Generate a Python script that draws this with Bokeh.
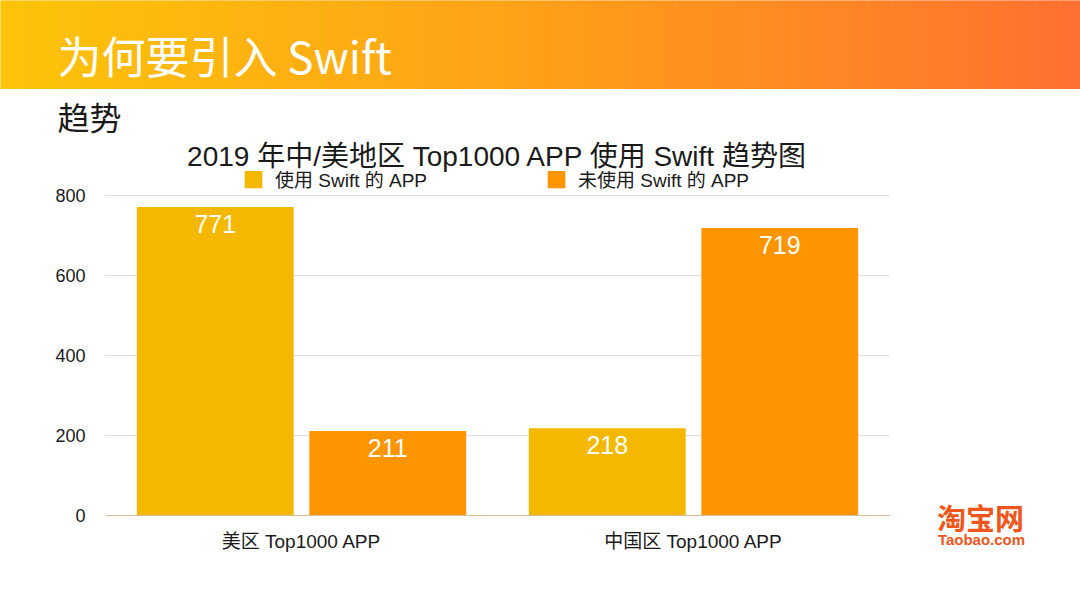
from bokeh.plotting import figure
from bokeh.layouts import column, row
from bokeh.models import (ColumnDataSource, FactorRange, Range1d, Label, Legend,
                          LegendItem, Title)
from bokeh.transform import dodge
from bokeh.core.properties import value
from bokeh.embed import file_html
from bokeh.resources import INLINE

# ---------------- data ----------------
header_title = "为何要引入 Swift"
section_title = "趋势"
chart_title = "2019 年中/美地区 Top1000 APP 使用 Swift 趋势图"
regions = ["美区 Top1000 APP", "中国区 Top1000 APP"]
series_names = ["使用 Swift 的 APP", "未使用 Swift 的 APP"]
used_swift = [771, 218]
not_used_swift = [211, 719]
y_ticks = [0, 200, 400, 600, 800]
logo_cn = "淘宝网"
logo_en = "Taobao.com"

# ---------------- styles ----------------
W = 1080
H_TOP = 89           # gradient header
H_CHART = 608 - H_TOP
W_CHART = 905
W_LOGO = W - W_CHART
FRAME_TOP, FRAME_BOTTOM = 171, 515      # page pixels
GRID_TOP = 195                          # page pixel of the 800 gridline
CJK = "Noto Sans CJK SC"
MIX = "Liberation Sans, Noto Sans CJK SC"
LAT = "Liberation Sans"
C_USED = "#F5B800"
C_UNUSED = "#FF9500"
GRAD = [(252, 196, 10), (255, 160, 24), (255, 112, 48)]
TXT = "#1a1a1a"
LOGO = "#EF561C"


def blank(fig):
    fig.grid.visible = False
    fig.outline_line_color = None
    fig.background_fill_color = None
    fig.border_fill_color = None


def grad_color(t):
    if t < 0.5:
        a, b, u = GRAD[0], GRAD[1], t / 0.5
    else:
        a, b, u = GRAD[1], GRAD[2], (t - 0.5) / 0.5
    c = tuple(int(round(x + (y - x) * u)) for x, y in zip(a, b))
    return "#%02x%02x%02x" % c


# ---------------- header (page pixel coordinates, y downwards) ----------------
h = figure(width=W, height=H_TOP, x_range=Range1d(0, W), y_range=Range1d(H_TOP, 0),
           toolbar_location=None, output_backend="svg", min_border=0,
           x_axis_location=None, y_axis_location=None)
blank(h)
N = 180
lefts = [W * i / N for i in range(N)]
rights = [W * (i + 1) / N for i in range(N)]
cols = [grad_color((i + 0.5) / N) for i in range(N)]
h.quad(left=lefts, right=rights, top=0, bottom=H_TOP, fill_color=cols, line_color=cols)
h.add_layout(Label(x=57, y=54, text=header_title, text_color="white",
                   text_font_size="44px", text_font=CJK, text_baseline="middle"))

# ---------------- chart ----------------
frame_h = FRAME_BOTTOM - FRAME_TOP
y_max = y_ticks[-1] * frame_h / (FRAME_BOTTOM - GRID_TOP)
p = figure(width=W_CHART, height=H_CHART, x_range=FactorRange(*regions),
           y_range=Range1d(0, y_max), toolbar_location=None, output_backend="svg",
           min_border_left=105, min_border_right=W_CHART - 889,
           min_border_top=FRAME_TOP - H_TOP,
           min_border_bottom=H_CHART - (FRAME_BOTTOM - H_TOP))
p.outline_line_color = None
p.background_fill_color = "white"

p.add_layout(Title(text=chart_title, align="center", text_font=MIX,
                   text_font_size="28px", text_font_style="normal",
                   text_color=TXT, standoff=0), "above")
p.add_layout(Title(text=section_title, align="left", offset=-48, text_font=CJK,
                   text_font_size="32px", text_font_style="normal",
                   text_color=TXT, standoff=0), "above")

src = ColumnDataSource(dict(region=regions, used=used_swift, unused=not_used_swift,
                            used_txt=[str(v) for v in used_swift],
                            unused_txt=[str(v) for v in not_used_swift]))

r1 = p.vbar(x=dodge("region", -0.22, range=p.x_range), top="used", width=0.4,
            source=src, fill_color=C_USED, line_color=None)
r2 = p.vbar(x=dodge("region", 0.22, range=p.x_range), top="unused", width=0.4,
            source=src, fill_color=C_UNUSED, line_color=None)

for off, col in ((-0.22, "used"), (0.22, "unused")):
    p.text(x=dodge("region", off, range=p.x_range), y=col, text=col + "_txt", source=src,
           text_color="white", text_font=value(LAT), text_font_size=value("25px"),
           text_align="center", text_baseline="middle", y_offset=17)

for rend, name, lx in ((r1, series_names[0], 242 - 105), (r2, series_names[1], 545 - 105)):
    lg = Legend(items=[LegendItem(label=name, renderers=[rend])],
                orientation="horizontal", location=(lx, FRAME_BOTTOM - 192),
                glyph_width=22, glyph_height=22, label_standoff=11,
                padding=0, margin=0, border_line_color=None,
                background_fill_alpha=0, label_text_font=MIX,
                label_text_font_size="19px", label_text_color=TXT,
                label_height=22, label_text_baseline="middle")
    p.add_layout(lg, "center")

p.yaxis.ticker = y_ticks
p.yaxis.axis_line_color = None
p.yaxis.major_tick_line_color = None
p.yaxis.minor_tick_line_color = None
p.yaxis.major_label_text_font = LAT
p.yaxis.major_label_text_font_size = "18px"
p.yaxis.major_label_text_color = TXT
p.yaxis.major_label_standoff = 14

p.xaxis.axis_line_color = "#D9BC9A"
p.xaxis.major_tick_line_color = None
p.xaxis.minor_tick_line_color = None
p.xaxis.major_label_text_font = MIX
p.xaxis.major_label_text_font_size = "19px"
p.xaxis.major_label_text_color = TXT
p.xaxis.major_label_standoff = 9

p.xgrid.grid_line_color = None
p.ygrid.grid_line_color = "#DDDDDD"

# ---------------- logo area (page pixel coordinates) ----------------
f = figure(width=W_LOGO, height=H_CHART, x_range=Range1d(W_CHART, W),
           y_range=Range1d(608, H_TOP), toolbar_location=None, output_backend="svg",
           min_border=0, x_axis_location=None, y_axis_location=None)
blank(f)
f.add_layout(Label(x=980, y=516, text=logo_cn, text_font=CJK, text_font_size="29px",
                   text_font_style="bold", text_color=LOGO,
                   text_baseline="middle", text_align="center"))
f.add_layout(Label(x=981, y=539, text=logo_en, text_font=LAT, text_font_size="15px",
                   text_font_style="bold", text_color=LOGO,
                   text_baseline="middle", text_align="center"))

layout = column(column(h), row(column(p), column(f), spacing=0), spacing=0)
open("out.html", "w").write(file_html(layout, INLINE))
